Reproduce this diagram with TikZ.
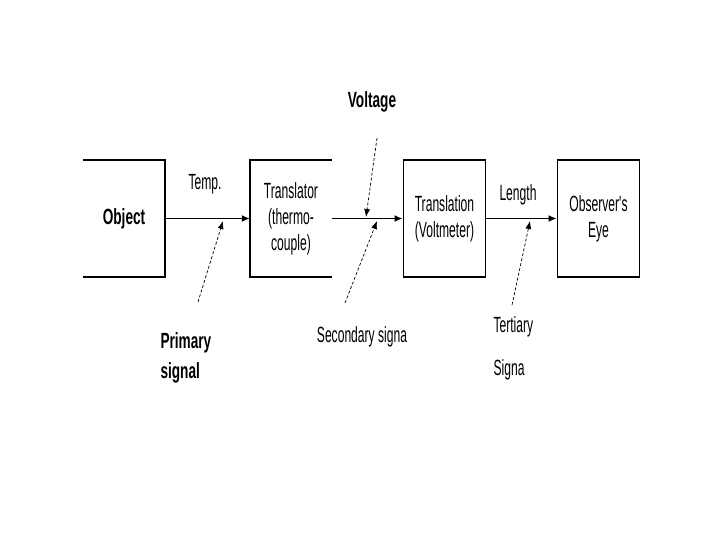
\documentclass[tikz,border=0pt]{standalone}
\usepackage{fontspec}
\setmainfont{Liberation Sans}
\newfontfamily\thinfont[FakeStretch=0.55]{Liberation Sans}
\newfontfamily\heavyfont[FakeStretch=0.62]{Liberation Sans Bold}
\usetikzlibrary{positioning,arrows.meta}

\begin{document}
\begin{tikzpicture}[x=1pt, y=-1pt,
    font=\thinfont\fontsize{22}{26}\selectfont,
    block/.style={minimum width=82pt, minimum height=117pt, inner sep=0pt, align=center},
    edge/.style={line width=1.8pt},
    flow/.style={line width=1.6pt, -{Latex[length=8pt,width=7pt]}},
    signal/.style={line width=0.7pt, densely dashed, -{Latex[length=8pt,width=6pt]}},
    heavy/.style={font=\heavyfont\fontsize{22}{30}\selectfont}]
  \useasboundingbox (0,0) rectangle (720,540);

  \node[block, heavy] (box-object) at (124,218.5) {Object};
  \node[block] (box-translator) at (291,218.5) {Translator\\(thermo-\\couple)};
  \node[block, draw, edge] (box-translation) at (444.5,218.5) {Translation\\(Voltmeter)};
  \node[block, draw, edge] (box-eye) at (598.5,218.5) {Observer's\\Eye};
  \draw[edge] (box-object.north west) -- (box-object.north east)
    -- (box-object.south east) -- (box-object.south west);
  \draw[edge] (box-translator.north east) -- (box-translator.north west)
    -- (box-translator.south west) -- (box-translator.south east);

  \draw[flow] (box-object) -- (box-translator);
  \draw[flow] (box-translator) -- (box-translation);
  \draw[flow] (box-translation) -- (box-eye);

  \node (label-temp) at (205,184) {Temp.};
  \node (label-length) at (518,195) {Length};
  \node[heavy] (label-voltage) at (372,102) {Voltage};
  \node[heavy, align=left, anchor=west] (label-primary) at (157,358) {Primary\\signal};
  \node (label-secondary) at (362,337) {Secondary signa};
  \node[align=left, anchor=west, font=\thinfont\fontsize{22}{43}\selectfont]
    (label-tertiary) at (490,348) {Tertiary\\Signa};

  \coordinate (primary-tail) at (198,302);
  \coordinate (primary-tip) at (223,221);
  \coordinate (voltage-tail) at (377,138);
  \coordinate (voltage-tip) at (366,217);
  \coordinate (secondary-tail) at (345,303);
  \coordinate (secondary-tip) at (377,221);
  \coordinate (tertiary-tail) at (512,305);
  \coordinate (tertiary-tip) at (530,221);
  \draw[signal] (primary-tail) -- (primary-tip);
  \draw[signal] (voltage-tail) -- (voltage-tip);
  \draw[signal] (secondary-tail) -- (secondary-tip);
  \draw[signal] (tertiary-tail) -- (tertiary-tip);
\end{tikzpicture}
\end{document}
